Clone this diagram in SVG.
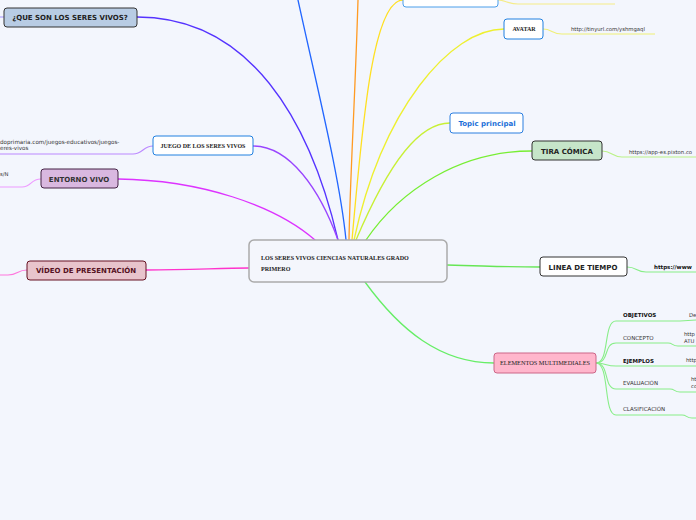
<svg xmlns="http://www.w3.org/2000/svg" width="696" height="520" viewBox="0 0 696 520">
<style>
.c{fill:none;stroke-width:1.3;stroke-linecap:round}
.s{fill:none;stroke-width:1.1}
.box{stroke-width:1}
.t{font-family:"DejaVu Sans",Verdana,sans-serif;font-weight:bold;font-size:7px;text-anchor:middle;fill:#222}
.sf{font-family:"Liberation Serif","Times New Roman",serif;font-weight:bold;font-size:6px;fill:#222}
.u{font-family:"DejaVu Sans",Verdana,sans-serif;font-size:5.3px;fill:#333}
.l{font-family:"DejaVu Sans",Verdana,sans-serif;font-size:5.5px;fill:#333}
.lb{font-family:"DejaVu Sans",Verdana,sans-serif;font-size:5.5px;font-weight:bold;fill:#111}
</style>
<rect width="696" height="520" fill="#f3f6fd"/>
<g id="connectors">
<path class="c" stroke="#5533ff" d="M137,17 C250,17 310,120 338,240"/>
<path class="c" stroke="#2266ff" d="M298,0 C320,100 340,180 346,240"/>
<path class="c" stroke="#ff9a22" d="M358,0 C355,100 350,180 349,240"/>
<path class="c" stroke="#ffe022" d="M352,240 C362,130 372,0 403,0"/>
<path class="c" stroke="#eef030" d="M354,240 C382,110 450,29 504,29"/>
<path class="c" stroke="#c8f035" d="M356,240 C390,160 420,123 450,123"/>
<path class="c" stroke="#77ee33" d="M366,240 C400,190 460,151 532,151"/>
<path class="c" stroke="#66e655" d="M447,265 C490,266 500,267 540,267"/>
<path class="c" stroke="#66ee66" d="M365,282 C400,330 440,363 494,363"/>
<path class="c" stroke="#9944ff" stroke-width="1" d="M253,146 C290,146 320,190 338,240"/>
<path class="c" stroke="#dd33ff" d="M118,179 C200,180 275,205 315,240"/>
<path class="c" stroke="#ff33cc" d="M146,270 C190,270 220,268 249,268"/>
<path class="s" stroke="#aa99ff" d="M0,17 L4,17"/>
<path class="s" stroke="#bb88ff" d="M153,146 C143,146 143,154 133,154 L0,154"/>
<path class="s" stroke="#ee99ff" d="M41,179 C30,179 32,187 22,187 L0,187"/>
<path class="s" stroke="#ff77dd" d="M27,270 C17,270 18,275 8,275 L0,275"/>
<path class="s" stroke="#f5ec88" d="M498,0 C505,0 508,4 518,4 L615,4"/>
<path class="s" stroke="#f0f077" d="M543,29 C552,29 552,34 562,34 L655,34"/>
<path class="s" stroke="#bbf288" d="M602,151 C612,151 612,157 622,157 L696,157"/>
<path class="s" stroke="#88ee88" d="M627,267 C637,267 636,272 646,272 L696,272"/>
<path class="s" stroke="#88ee88" d="M596,363 C610,363 603,321 616,321 L680,321 L696,320"/>
<path class="s" stroke="#88ee88" d="M596,363 C610,363 603,343 616,343 L668,343 C673,343 672,346 678,346 L696,346"/>
<path class="s" stroke="#88ee88" d="M596,363 C605,363 606,366 616,366 L696,366"/>
<path class="s" stroke="#88ee88" d="M596,363 C610,363 603,389 616,389 L670,389 C675,389 674,392 680,392 L696,392"/>
<path class="s" stroke="#88ee88" d="M596,363 C610,363 603,415 616,415 L682,415 C687,415 686,418 692,418 L696,418"/>
</g>
<g id="central">
<rect x="249" y="240" width="198" height="42" rx="5" fill="#f4f6fc" stroke="#aaaaaa" stroke-width="1.5"/>
<text class="sf" x="261" y="260" style="font-size:6.1px">LOS SERES VIVOS CIENCIAS NATURALES GRADO</text>
<text class="sf" x="261" y="271" style="font-size:6.1px">PRIMERO</text>
</g>
<g id="que-son">
<rect class="box" x="4" y="8" width="133" height="19" rx="3" fill="#b8cce4" stroke="#333"/>
<text class="t" x="70" y="20">¿QUE SON LOS SERES VIVOS?</text>
</g>
<g id="top-node">
<rect class="box" x="403" y="-12" width="95" height="19" rx="3" fill="#fff" stroke="#4a9eea"/>
</g>
<g id="avatar">
<rect class="box" x="504" y="19" width="39" height="20" rx="3" fill="#fff" stroke="#2080e0"/>
<text class="sf" x="524" y="31" text-anchor="middle">AVATAR</text>
<text class="u" x="571" y="31">http://tinyurl.com/yshmgaql</text>
</g>
<g id="topic">
<rect class="box" x="450" y="113" width="73" height="20" rx="3" fill="#fff" stroke="#2a7ee0"/>
<text class="t" x="487" y="126" style="fill:#1a6fd8">Topic principal</text>
</g>
<g id="tira">
<rect class="box" x="532" y="141" width="70" height="19" rx="3" fill="#c6e5c9" stroke="#333"/>
<text class="t" x="567" y="154">TIRA CÓMICA</text>
<text class="u" x="629" y="154">https://app-es.pixton.co</text>
</g>
<g id="linea">
<rect class="box" x="540" y="257" width="87" height="19" rx="3" fill="#fff" stroke="#333"/>
<text class="t" x="583" y="270">LINEA DE TIEMPO</text>
<text class="lb" x="654" y="269">https://www</text>
</g>
<g id="elementos">
<rect class="box" x="494" y="353" width="102" height="20" rx="3" fill="#ffb6cc" stroke="#cc6688"/>
<text class="sf" x="545" y="365" text-anchor="middle" style="font-weight:normal;font-size:6.3px">ELEMENTOS MULTIMEDIALES</text>
<text class="lb" x="623" y="317">OBJETIVOS</text>
<text class="u" x="689" y="317">De</text>
<text class="l" x="623" y="340">CONCEPTO</text>
<text class="u" x="684" y="336">http</text>
<text class="u" x="684" y="343">ATU</text>
<text class="lb" x="623" y="363">EJEMPLOS</text>
<text class="u" x="686" y="362">http</text>
<text class="l" x="623" y="385">EVALUACIÓN</text>
<text class="u" x="691" y="381">ht</text>
<text class="u" x="691" y="388">co</text>
<text class="l" x="623" y="411">CLASIFICACIÓN</text>
</g>
<g id="juego">
<rect class="box" x="153" y="136" width="100" height="19" rx="3" fill="#fff" stroke="#2080e0"/>
<text class="sf" x="203" y="148" text-anchor="middle">JUEGO DE LOS SERES VIVOS</text>
<text class="u" x="0" y="144" style="font-size:5.6px">doprimaria.com/juegos-educativos/juegos-</text>
<text class="u" x="0" y="150" style="font-size:5.6px">eres-vivos</text>
</g>
<g id="entorno">
<rect class="box" x="41" y="169" width="77" height="19" rx="3" fill="#d9b8e0" stroke="#442244"/>
<text class="t" x="79" y="182" style="fill:#333">ENTORNO VIVO</text>
<text class="u" x="0" y="176">s/N</text>
</g>
<g id="video">
<rect class="box" x="27" y="261" width="119" height="19" rx="3" fill="#e8c4cc" stroke="#661122"/>
<text class="t" x="86" y="273" style="fill:#551122">VÍDEO DE PRESENTACIÓN</text>
</g>
</svg>
